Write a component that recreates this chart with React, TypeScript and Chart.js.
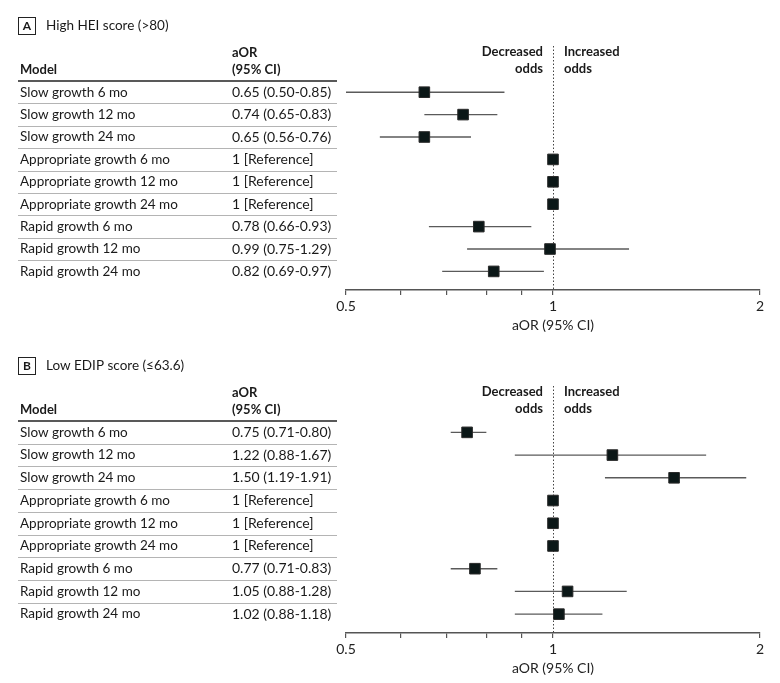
import React, { useEffect, useRef } from 'react';
import { Chart, registerables } from 'chart.js';

Chart.register(...registerables);

const models = [
  'Slow growth 6 mo',
  'Slow growth 12 mo',
  'Slow growth 24 mo',
  'Appropriate growth 6 mo',
  'Appropriate growth 12 mo',
  'Appropriate growth 24 mo',
  'Rapid growth 6 mo',
  'Rapid growth 12 mo',
  'Rapid growth 24 mo',
];

// Panel A: High HEI score (>80)
const heiOR = [0.65, 0.74, 0.65, 1, 1, 1, 0.78, 0.99, 0.82];
const heiLo: (number | null)[] = [0.5, 0.65, 0.56, null, null, null, 0.66, 0.75, 0.69];
const heiHi: (number | null)[] = [0.85, 0.83, 0.76, null, null, null, 0.93, 1.29, 0.97];
const heiText = [
  '0.65 (0.50-0.85)',
  '0.74 (0.65-0.83)',
  '0.65 (0.56-0.76)',
  '1 [Reference]',
  '1 [Reference]',
  '1 [Reference]',
  '0.78 (0.66-0.93)',
  '0.99 (0.75-1.29)',
  '0.82 (0.69-0.97)',
];

// Panel B: Low EDIP score (≤63.6)
const edipOR = [0.75, 1.22, 1.5, 1, 1, 1, 0.77, 1.05, 1.02];
const edipLo: (number | null)[] = [0.71, 0.88, 1.19, null, null, null, 0.71, 0.88, 0.88];
const edipHi: (number | null)[] = [0.8, 1.67, 1.91, null, null, null, 0.83, 1.28, 1.18];
const edipText = [
  '0.75 (0.71-0.80)',
  '1.22 (0.88-1.67)',
  '1.50 (1.19-1.91)',
  '1 [Reference]',
  '1 [Reference]',
  '1 [Reference]',
  '0.77 (0.71-0.83)',
  '1.05 (0.88-1.28)',
  '1.02 (0.88-1.18)',
];

const xTicks = [0.5, 0.6, 0.7, 0.8, 0.9, 1, 2];
const xLabeled = [0.5, 1, 2];
const axisTitle = 'aOR (95% CI)';

type PanelDef = {
  letter: string;
  title: string;
  or: number[];
  lo: (number | null)[];
  hi: (number | null)[];
  text: string[];
};

const FONT = 'Lato, "Open Sans", sans-serif';
const TEXT = '#1a1a1a';

function ForestPanel({ panel, height }: { panel: PanelDef; height: number }) {
  const ref = useRef<HTMLCanvasElement>(null);

  useEffect(() => {
    const canvas = ref.current;
    if (!canvas) return;

    const tablePlugin = {
      id: 'forestTable',
      beforeDatasetsDraw(chart: any) {
        const { ctx, scales, chartArea } = chart;
        const x = scales.x;
        const y = scales.y;
        const px1 = x.getPixelForValue(1);
        ctx.save();
        ctx.textBaseline = 'middle';
        ctx.fillStyle = TEXT;

        // panel letter box + title
        ctx.strokeStyle = '#222';
        ctx.lineWidth = 1;
        ctx.strokeRect(18.5, 17.5, 17, 17);
        ctx.font = `bold 12px ${FONT}`;
        ctx.textAlign = 'center';
        ctx.fillText(panel.letter, 27, 26.5);
        ctx.font = `13.5px ${FONT}`;
        ctx.textAlign = 'left';
        ctx.fillText(panel.title, 46, 26);

        // headers
        ctx.font = `bold 13px ${FONT}`;
        ctx.fillText('Model', 20, 70);
        ctx.fillText('aOR', 232, 53);
        ctx.fillText('(95% CI)', 232, 70);
        ctx.textAlign = 'right';
        ctx.fillText('Decreased', px1 - 10, 52);
        ctx.fillText('odds', px1 - 10, 69);
        ctx.textAlign = 'left';
        ctx.fillText('Increased', px1 + 11, 52);
        ctx.fillText('odds', px1 + 11, 69);

        // header rule
        const topY = y.getPixelForValue(-0.5);
        ctx.strokeStyle = '#222';
        ctx.lineWidth = 1.5;
        ctx.beginPath();
        ctx.moveTo(18, topY);
        ctx.lineTo(337, topY);
        ctx.stroke();

        // row separators
        ctx.strokeStyle = '#b4b4b4';
        ctx.lineWidth = 1;
        for (let i = 0; i < models.length - 1; i++) {
          const yy = Math.round(y.getPixelForValue(i + 0.5)) + 0.5;
          ctx.beginPath();
          ctx.moveTo(18, yy);
          ctx.lineTo(337, yy);
          ctx.stroke();
        }

        // row texts
        ctx.fillStyle = TEXT;
        models.forEach((m, i) => {
          const yy = y.getPixelForValue(i);
          ctx.font = `13.5px ${FONT}`;
          ctx.fillText(m, 20, yy);
          ctx.font = `14px ${FONT}`;
          ctx.fillText(panel.text[i], 232, yy);
        });

        // dotted reference line at 1
        ctx.strokeStyle = '#444';
        ctx.lineWidth = 1;
        ctx.setLineDash([1.5, 2]);
        ctx.beginPath();
        ctx.moveTo(Math.round(px1) + 0.5, 46);
        ctx.lineTo(Math.round(px1) + 0.5, chartArea.bottom);
        ctx.stroke();
        ctx.restore();
      },
    };

    const ciSets: any[] = [];
    panel.or.forEach((_, i) => {
      const lo = panel.lo[i];
      const hi = panel.hi[i];
      if (lo == null || hi == null) return;
      ciSets.push({
        data: [
          { x: lo, y: i },
          { x: hi, y: i },
        ],
        showLine: true,
        pointRadius: 0,
        borderColor: '#5a5a5a',
        borderWidth: 1.4,
        order: 1,
      });
    });

    const chart = new Chart(canvas, {
      type: 'scatter',
      data: {
        datasets: [
          {
            data: panel.or.map((v, i) => ({ x: v, y: i })),
            pointStyle: 'rect',
            pointRadius: 7.5,
            backgroundColor: '#0b1717',
            borderColor: '#2a2a2a',
            borderWidth: 1,
            order: 0,
          },
          ...ciSets,
        ],
      },
      options: {
        responsive: false,
        animation: false,
        events: [],
        layout: { padding: { left: 346, right: 20, top: 81, bottom: 0 } },
        plugins: {
          legend: { display: false },
          tooltip: { enabled: false },
        },
        scales: {
          x: {
            type: 'logarithmic',
            min: 0.5,
            max: 2,
            afterBuildTicks: (s: any) => {
              s.ticks = xTicks.map((v) => ({ value: v }));
            },
            afterFit: (s: any) => {
              s.height = 50;
            },
            ticks: {
              autoSkip: false,
              maxRotation: 0,
              padding: 3,
              color: '#222',
              font: { size: 14, family: FONT },
              callback: (v: any) => (xLabeled.includes(Number(v)) ? String(v) : ''),
            },
            grid: {
              drawOnChartArea: false,
              drawTicks: true,
              tickLength: 5,
              color: '#555',
              lineWidth: 1.2,
            },
            border: { display: true, color: '#555', width: 1.5 },
            title: {
              display: true,
              text: axisTitle,
              color: '#222',
              font: { size: 14, family: FONT },
              padding: { top: 0, bottom: 6 },
            },
          },
          y: {
            type: 'linear',
            reverse: true,
            min: -0.5,
            max: 8.83,
            display: false,
          },
        },
      },
      plugins: [tablePlugin],
    } as any);

    return () => chart.destroy();
  }, [panel]);

  return <canvas ref={ref} width={780} height={height} style={{ display: 'block' }} />;
}

const panelA: PanelDef = {
  letter: 'A',
  title: 'High HEI score (>80)',
  or: heiOR,
  lo: heiLo,
  hi: heiHi,
  text: heiText,
};

const panelB: PanelDef = {
  letter: 'B',
  title: 'Low EDIP score (≤63.6)',
  or: edipOR,
  lo: edipLo,
  hi: edipHi,
  text: edipText,
};

export default function App() {
  return (
    <div
      style={{
        position: 'absolute',
        left: 0,
        top: 0,
        width: 780,
        height: 683,
        background: '#fff',
        overflow: 'hidden',
      }}
    >
      <ForestPanel panel={panelA} height={340} />
      <ForestPanel panel={panelB} height={343} />
    </div>
  );
}
